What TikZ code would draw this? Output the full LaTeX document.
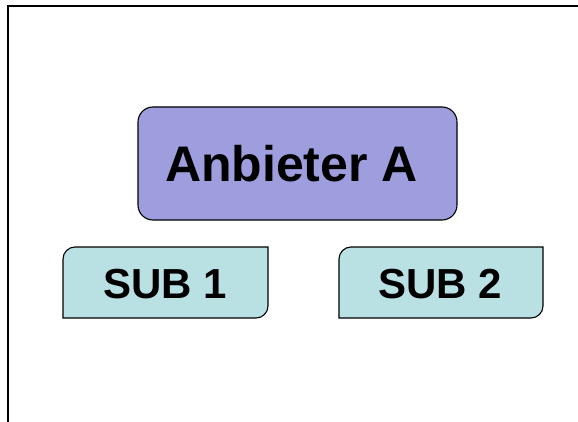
\documentclass[tikz,border=0pt]{standalone}
\usepackage{fontspec}
\setmainfont{Liberation Sans}
\definecolor{mainfill}{HTML}{9E9EDE}
\definecolor{subfill}{HTML}{B9E0E3}
\tikzset{
  frame/.style={line width=2pt, black},
  mainbox/.style={draw=black, line width=1.1pt, fill=mainfill, rounded corners=15pt},
  subshape/.style={draw=black, line width=1.1pt, fill=subfill},
  label/.style={font=\bfseries, inner sep=0pt, anchor=center},
}
\begin{document}
\begin{tikzpicture}[x=1pt,y=-1pt]
\useasboundingbox (0,0) rectangle (578,422);
\draw[frame] (8,422) -- (8,6) -- (578,6);
\draw[mainbox] (138,107) rectangle (457,220);
\node[label, font=\fontsize{50}{50}\selectfont\bfseries] (a) at (291.5,164) {Anbieter A};
\draw[subshape] (63,318) [rounded corners=12pt] -- (63,247) [sharp corners] -- (268,247) [rounded corners=12pt] -- (268,318) [sharp corners] -- cycle;
\node[label, font=\fontsize{42}{42}\selectfont\bfseries] (s1) at (165,284) {SUB 1};
\draw[subshape] (339,318) [rounded corners=12pt] -- (339,247) [sharp corners] -- (543,247) [rounded corners=12pt] -- (543,318) [sharp corners] -- cycle;
\node[label, font=\fontsize{42}{42}\selectfont\bfseries] (s2) at (440,284) {SUB 2};
\end{tikzpicture}
\end{document}
